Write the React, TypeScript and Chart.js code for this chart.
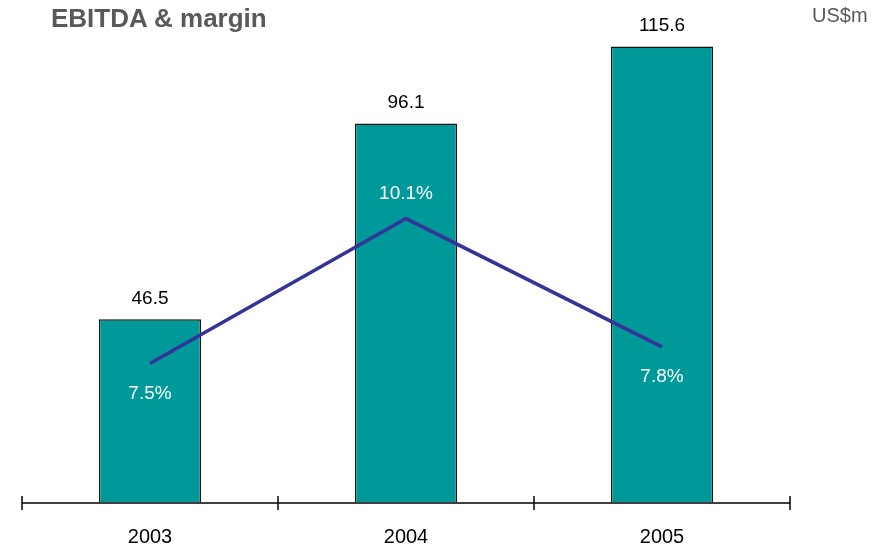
import React, { useEffect, useRef } from "react";
import { Chart, registerables } from "chart.js";

Chart.register(...registerables);

const years = ["2003", "2004", "2005"];
const ebitda = [46.5, 96.1, 115.6];
const margin = [7.5, 10.1, 7.8];

const FONT = "'Liberation Sans', Arial, Helvetica, sans-serif";

export default function App() {
  const ref = useRef<HTMLCanvasElement>(null);

  useEffect(() => {
    document.body.style.margin = "0";
    const canvas = ref.current;
    if (!canvas) return;

    const labelsPlugin = {
      id: "valueLabels",
      afterDatasetsDraw(chart: any) {
        const ctx = chart.ctx;
        ctx.save();
        ctx.font = `19px ${FONT}`;
        ctx.textAlign = "center";
        ctx.textBaseline = "middle";
        const barMeta = chart.getDatasetMeta(0);
        barMeta.data.forEach((el: any, i: number) => {
          ctx.fillStyle = "#000000";
          ctx.fillText(ebitda[i].toFixed(1), el.x, el.y - 21);
        });
        const lineMeta = chart.getDatasetMeta(1);
        const maxM = Math.max(...margin);
        lineMeta.data.forEach((el: any, i: number) => {
          ctx.fillStyle = "#ffffff";
          const above = margin[i] === maxM;
          ctx.fillText(margin[i].toFixed(1) + "%", el.x, above ? el.y - 25 : el.y + 30);
        });
        ctx.restore();
      },
      afterDraw(chart: any) {
        const { ctx, chartArea } = chart;
        const n = years.length;
        const y = chartArea.bottom;
        ctx.save();
        ctx.strokeStyle = "#404040";
        ctx.lineWidth = 2;
        ctx.beginPath();
        ctx.moveTo(chartArea.left, y);
        ctx.lineTo(chartArea.right, y);
        ctx.stroke();
        ctx.strokeStyle = "#000000";
        ctx.lineWidth = 1.5;
        const w = (chartArea.right - chartArea.left) / n;
        for (let i = 0; i <= n; i++) {
          const x = Math.round(chartArea.left + i * w);
          ctx.beginPath();
          ctx.moveTo(x, y - 7);
          ctx.lineTo(x, y + 7);
          ctx.stroke();
        }
        ctx.restore();
      },
    };

    const chart = new Chart(canvas, {
      type: "bar",
      data: {
        labels: years,
        datasets: [
          {
            type: "bar",
            label: "EBITDA",
            data: ebitda,
            backgroundColor: "#009999",
            borderColor: "#111111",
            borderWidth: 1.5,
            barPercentage: 0.4,
            categoryPercentage: 1,
            yAxisID: "y",
            order: 2,
          },
          {
            type: "line",
            label: "Margin",
            data: margin,
            borderColor: "#333399",
            borderWidth: 3.5,
            pointRadius: 0,
            fill: false,
            tension: 0,
            yAxisID: "y1",
            order: 1,
          },
        ],
      },
      options: {
        animation: false,
        responsive: false,
        maintainAspectRatio: false,
        layout: { padding: { left: 22, right: 96, top: 29, bottom: 0 } },
        plugins: {
          legend: { display: false },
          tooltip: { enabled: false },
          title: { display: false },
        },
        scales: {
          x: {
            grid: { display: false },
            border: { display: false },
            ticks: {
              color: "#000000",
              font: { family: FONT, size: 20 },
              padding: 14,
            },
            afterFit: (scale: any) => {
              scale.height = 44;
            },
          },
          y: { display: false, min: 0, max: 120 },
          y1: { display: false, min: 5, max: 13.5, position: "right" },
        },
      },
      plugins: [labelsPlugin],
    });

    return () => chart.destroy();
  }, []);

  return (
    <div style={{ position: "relative", width: 886, height: 547, background: "#ffffff" }}>
      <canvas ref={ref} width={886} height={547} style={{ position: "absolute", left: 0, top: 0 }} />
      <div
        style={{
          position: "absolute",
          left: 51,
          top: 3,
          fontFamily: FONT,
          fontWeight: "bold",
          fontSize: 26,
          color: "#595959",
          whiteSpace: "nowrap",
        }}
      >
        EBITDA &amp; margin
      </div>
      <div
        style={{
          position: "absolute",
          left: 812,
          top: 4,
          fontFamily: FONT,
          fontSize: 20,
          color: "#595959",
          whiteSpace: "nowrap",
        }}
      >
        US$m
      </div>
    </div>
  );
}
